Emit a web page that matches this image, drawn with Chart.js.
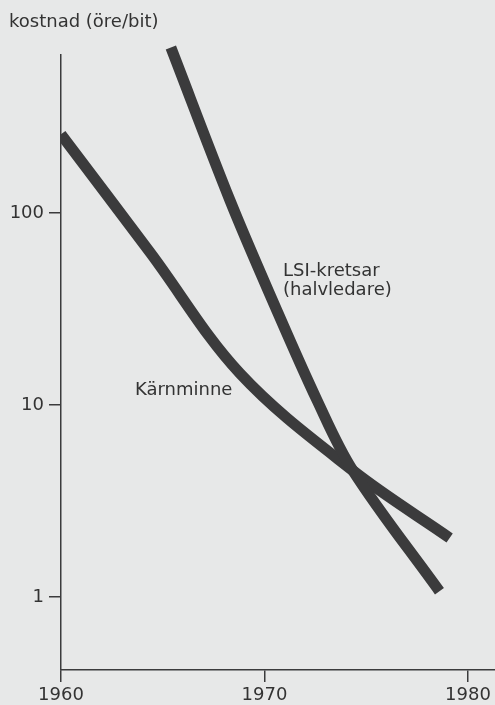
<!DOCTYPE html>
<html>
<head>
<meta charset="utf-8">
<script src="https://cdn.jsdelivr.net/npm/chart.js@4/dist/chart.umd.min.js"></script>
<style>
  html, body { margin: 0; padding: 0; background: #e7e8e8; }
  #wrap { width: 495px; height: 705px; }
</style>
</head>
<body>
<div id="wrap"><canvas id="costChart" width="495" height="705"></canvas></div>
<script>
// values (year, cost in öre/bit)
var lsiYears = [1965.4, 1968.3, 1970.4, 1972.6, 1974.35, 1978.6];
var lsiCost = [730, 117, 35, 10.5, 4.55, 1.07];
var coreYears = [1960, 1964.4, 1968.8, 1974.35, 1979.1];
var coreCost = [258, 62, 14.6, 4.55, 2.03];
var yearTicks = [1960, 1970, 1980];
var costTicks = [1, 10, 100];

var ink = '#3b3b3c';
var textInk = '#333333';
var font = 'DejaVu Sans';

function pairs(xs, ys) {
    return xs.map(function(x, i) { return { x: x, y: ys[i] }; });
}

var annotations = {
    id: 'annotations',
    afterDraw: function(chart) {
        var ctx = chart.ctx;
        ctx.save();
        ctx.fillStyle = textInk;
        ctx.font = '18px "' + font + '"';
        ctx.textBaseline = 'alphabetic';
        ctx.textAlign = 'left';
        ctx.fillText('kostnad (öre/bit)', 9, 27);
        ctx.fillText('LSI-kretsar', 283, 276);
        ctx.fillText('(halvledare)', 283, 295);
        ctx.fillText('Kärnminne', 135, 395);
        ctx.restore();
    }
};

var ctx = document.getElementById('costChart').getContext('2d');
new Chart(ctx, {
    type: 'scatter',
    data: {
        datasets: [
            {
                label: 'LSI-kretsar (halvledare)',
                data: pairs(lsiYears, lsiCost),
                showLine: true,
                borderColor: ink,
                borderWidth: 11,
                borderCapStyle: 'butt',
                borderJoinStyle: 'round',
                tension: 0.35,
                pointRadius: 0,
                clip: false
            },
            {
                label: 'Kärnminne',
                data: pairs(coreYears, coreCost),
                showLine: true,
                borderColor: ink,
                borderWidth: 11,
                borderCapStyle: 'butt',
                borderJoinStyle: 'round',
                tension: 0.35,
                pointRadius: 0,
                clip: { left: 0, top: false, right: false, bottom: false }
            }
        ]
    },
    options: {
        responsive: false,
        animation: false,
        events: [],
        layout: { padding: { top: 55, right: 0, left: 0, bottom: 0 } },
        plugins: {
            legend: { display: false },
            tooltip: { enabled: false }
        },
        scales: {
            x: {
                type: 'linear',
                min: 1960,
                max: 1981.33,
                afterBuildTicks: function(scale) {
                    scale.ticks = yearTicks.map(function(v) { return { value: v }; });
                },
                afterFit: function(scale) { scale.height = 35; },
                ticks: {
                    color: textInk,
                    font: { family: font, size: 18 },
                    padding: 3,
                    maxRotation: 0,
                    callback: function(v) { return String(v); }
                },
                grid: {
                    drawOnChartArea: false,
                    drawTicks: true,
                    tickLength: 12,
                    color: ink,
                    lineWidth: 1.5
                },
                border: { display: true, color: ink, width: 1.5 }
            },
            y: {
                type: 'logarithmic',
                min: 0.416,
                max: 668,
                afterBuildTicks: function(scale) {
                    scale.ticks = costTicks.map(function(v) { return { value: v }; });
                },
                afterFit: function(scale) { scale.width = 61; },
                ticks: {
                    color: textInk,
                    font: { family: font, size: 18 },
                    padding: 5,
                    callback: function(v) { return String(v); }
                },
                grid: {
                    drawOnChartArea: false,
                    drawTicks: true,
                    tickLength: 12,
                    color: ink,
                    lineWidth: 1.5
                },
                border: { display: true, color: ink, width: 1.5 }
            }
        }
    },
    plugins: [annotations]
});
</script>
</body>
</html>
